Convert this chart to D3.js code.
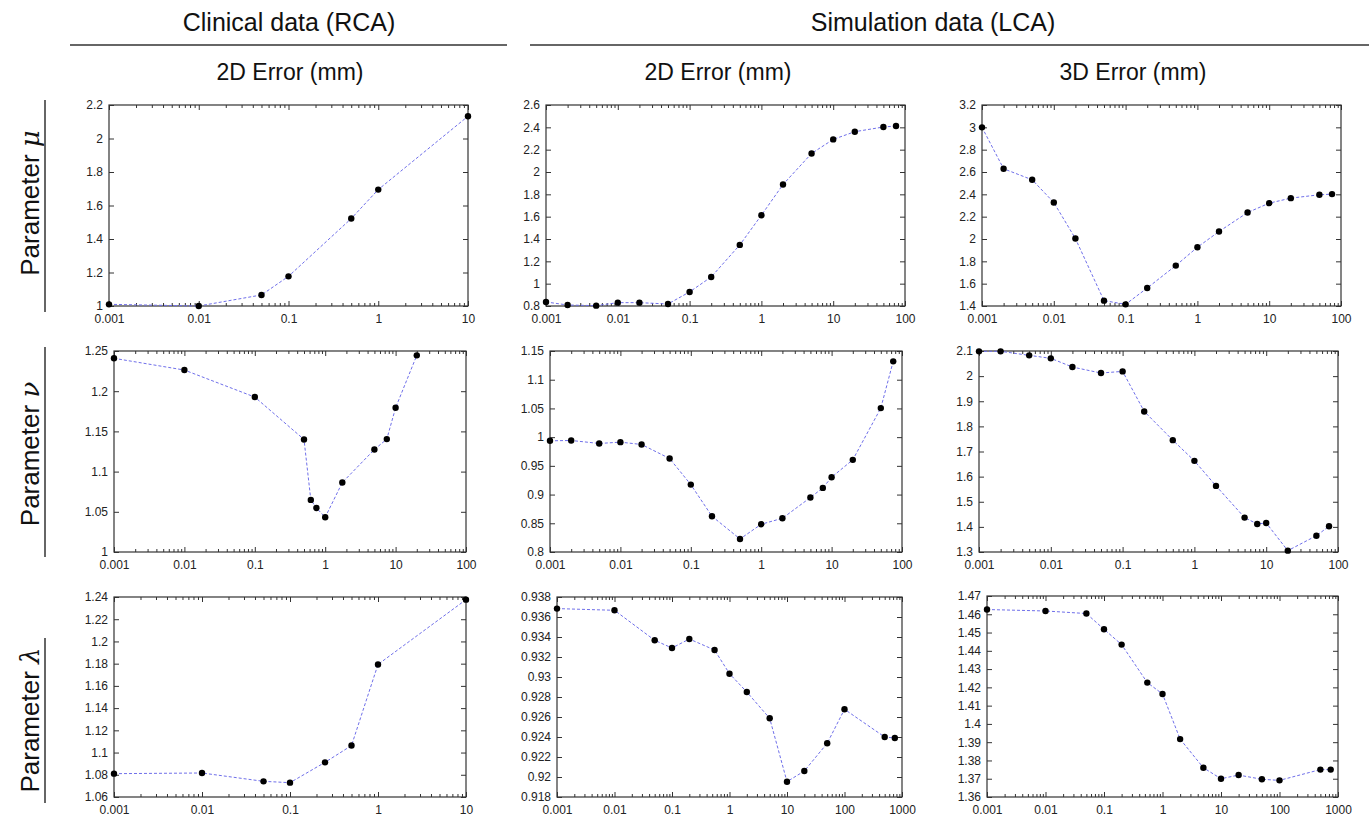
<!DOCTYPE html>
<html><head><meta charset="utf-8">
<script src="https://cdn.jsdelivr.net/npm/d3@7"></script>
<style>
body{margin:0;background:#fff;}
svg{display:block;font-family:"Liberation Sans",Arial,sans-serif;}
</style></head>
<body><svg id="c" width="1369" height="817"></svg>
<script>
// ---------- data ----------
const colHeaders = ["Clinical data (RCA)", "Simulation data (LCA)"];
const subHeaders = ["2D Error (mm)", "2D Error (mm)", "3D Error (mm)"];
const rowLabels = ["\u03BC", "\u03BD", "\u03BB"];

const xMuRCA = [0.001, 0.01, 0.05, 0.1, 0.5, 1, 10];
const yMuRCA2D = [1.01, 1.0, 1.066, 1.177, 1.522, 1.695, 2.133];

const xMuLCA = [0.001, 0.002, 0.005, 0.01, 0.02, 0.05, 0.1, 0.2, 0.5, 1, 2, 5, 10, 20, 50, 75];
const yMuLCA2D = [0.836, 0.809, 0.803, 0.83, 0.83, 0.818, 0.926, 1.06, 1.347, 1.613, 1.888, 2.166, 2.292, 2.361, 2.403, 2.412];
const yMuLCA3D = [3.0, 2.629, 2.53, 2.327, 2.004, 1.448, 1.415, 1.561, 1.762, 1.926, 2.067, 2.237, 2.321, 2.366, 2.396, 2.402];

const xNuRCA = [0.001, 0.01, 0.1, 0.5, 0.625, 0.75, 1, 1.75, 5, 7.5, 10, 20];
const yNuRCA2D = [1.2409, 1.2263, 1.1927, 1.14, 1.0648, 1.0548, 1.0432, 1.0864, 1.1275, 1.1404, 1.1794, 1.2446];

const xNuLCA = [0.001, 0.002, 0.005, 0.01, 0.02, 0.05, 0.1, 0.2, 0.5, 1, 2, 5, 7.5, 10, 20, 50, 75];
const yNuLCA2D = [0.9936, 0.9942, 0.989, 0.9913, 0.9872, 0.9628, 0.9174, 0.8622, 0.8227, 0.8483, 0.8587, 0.8948, 0.9116, 0.9302, 0.9605, 1.0506, 1.132];
const yNuLCA3D = [2.0987, 2.0987, 2.0827, 2.0708, 2.0362, 2.0123, 2.0189, 1.8595, 1.7452, 1.6628, 1.5631, 1.4369, 1.4116, 1.4156, 1.3053, 1.3649, 1.4023];

const xLaRCA = [0.001, 0.01, 0.05, 0.1, 0.25, 0.5, 1, 10];
const yLaRCA2D = [1.081, 1.0816, 1.0741, 1.0729, 1.0912, 1.1063, 1.1793, 1.2376];

const xLaLCA = [0.001, 0.01, 0.05, 0.1, 0.2, 0.55, 1, 2, 5, 10, 20, 50, 100, 500, 750];
const yLaLCA2D = [0.93684, 0.93667, 0.93367, 0.9329, 0.9338, 0.9327, 0.93033, 0.9285, 0.92587, 0.91953, 0.9206, 0.92337, 0.92677, 0.924, 0.9239];
const yLaLCA3D = [1.4626, 1.4618, 1.4604, 1.4518, 1.4434, 1.4226, 1.4164, 1.3917, 1.376, 1.37, 1.372, 1.3697, 1.3691, 1.375, 1.375];

// x tick labels (decades) and y tick label lists
const xTickLabels = ["0.001", "0.01", "0.1", "1", "10", "100", "1000"];
const yTicks1 = ["1", "1.2", "1.4", "1.6", "1.8", "2", "2.2"];
const yTicks2 = ["0.8", "1", "1.2", "1.4", "1.6", "1.8", "2", "2.2", "2.4", "2.6"];
const yTicks3 = ["1.4", "1.6", "1.8", "2", "2.2", "2.4", "2.6", "2.8", "3", "3.2"];
const yTicks4 = ["1", "1.05", "1.1", "1.15", "1.2", "1.25"];
const yTicks5 = ["0.8", "0.85", "0.9", "0.95", "1", "1.05", "1.1", "1.15"];
const yTicks6 = ["1.3", "1.4", "1.5", "1.6", "1.7", "1.8", "1.9", "2", "2.1"];
const yTicks7 = ["1.06", "1.08", "1.1", "1.12", "1.14", "1.16", "1.18", "1.2", "1.22", "1.24"];
const yTicks8 = ["0.918", "0.92", "0.922", "0.924", "0.926", "0.928", "0.93", "0.932", "0.934", "0.936", "0.938"];
const yTicks9 = ["1.36", "1.37", "1.38", "1.39", "1.4", "1.41", "1.42", "1.43", "1.44", "1.45", "1.46", "1.47"];

// ---------- layout ----------
const panels = [
  {r:[109,105,468,306], xd:[0.001,10],  xs:xMuRCA, ys:yMuRCA2D, yt:yTicks1},
  {r:[546,105,905,306], xd:[0.001,100], xs:xMuLCA, ys:yMuLCA2D, yt:yTicks2},
  {r:[982,105,1341,306],xd:[0.001,100], xs:xMuLCA, ys:yMuLCA3D, yt:yTicks3},
  {r:[114,351,466,552], xd:[0.001,100], xs:xNuRCA, ys:yNuRCA2D, yt:yTicks4},
  {r:[550,351,902,552], xd:[0.001,100], xs:xNuLCA, ys:yNuLCA2D, yt:yTicks5},
  {r:[979,351,1338,552],xd:[0.001,100], xs:xNuLCA, ys:yNuLCA3D, yt:yTicks6},
  {r:[114,597,466,797], xd:[0.001,10],  xs:xLaRCA, ys:yLaRCA2D, yt:yTicks7},
  {r:[557,597,902,797], xd:[0.001,1000],xs:xLaLCA, ys:yLaLCA2D, yt:yTicks8},
  {r:[987,596,1338,797],xd:[0.001,1000],xs:xLaLCA, ys:yLaLCA3D, yt:yTicks9}
];

const svg = d3.select("#c");
const axisCol = "#333";
const lineCol = "#6f6fea";
const xTickNums = xTickLabels.map(Number);

panels.forEach(p => {
  const [x0,y0,x1,y1] = p.r;
  const g = svg.append("g");
  const yVals = p.yt.map(Number);
  const x = d3.scaleLog().domain(p.xd).range([x0,x1]);
  const y = d3.scaleLinear().domain([yVals[0], yVals[yVals.length-1]]).range([y1,y0]);
  const majors = xTickNums.filter(v => v >= p.xd[0]*0.999 && v <= p.xd[1]*1.001);
  const minors = [];
  majors.forEach(m => { for (let k=2;k<=9;k++){ const v=m*k; if (v < p.xd[1]*0.999) minors.push(v);} });

  const ab = g.append("g").attr("transform",`translate(0,${y1})`)
    .call(d3.axisBottom(x).tickValues(majors).tickSize(-5).tickPadding(8).tickFormat(v => xTickLabels[xTickNums.indexOf(v)]));
  const abm = g.append("g").attr("transform",`translate(0,${y1})`)
    .call(d3.axisBottom(x).tickValues(minors).tickSize(-3).tickFormat(""));
  const at = g.append("g").attr("transform",`translate(0,${y0})`)
    .call(d3.axisTop(x).tickValues(majors).tickSize(-5).tickFormat(""));
  const atm = g.append("g").attr("transform",`translate(0,${y0})`)
    .call(d3.axisTop(x).tickValues(minors).tickSize(-3).tickFormat(""));
  const al = g.append("g").attr("transform",`translate(${x0},0)`)
    .call(d3.axisLeft(y).tickValues(yVals).tickSize(-5).tickPadding(6).tickFormat((v,i) => p.yt[i]));
  const ar = g.append("g").attr("transform",`translate(${x1},0)`)
    .call(d3.axisRight(y).tickValues(yVals).tickSize(-5).tickFormat(""));
  [ab,abm,at,atm,al,ar].forEach(a => {
    a.select(".domain").remove();
    a.selectAll("line").attr("stroke",axisCol);
    a.selectAll("text").attr("fill","#222").style("font-size","12px").style("font-family","'Liberation Sans',Arial,sans-serif");
  });
  g.append("rect").attr("x",x0).attr("y",y0).attr("width",x1-x0).attr("height",y1-y0)
    .attr("fill","none").attr("stroke",axisCol).attr("stroke-width",1.2);

  const pts = p.xs.map((v,i) => [v, p.ys[i]]);
  g.append("path").datum(pts)
    .attr("d", d3.line().x(d => x(d[0])).y(d => y(d[1])))
    .attr("fill","none").attr("stroke",lineCol).attr("stroke-width",1).attr("stroke-dasharray","3,2");
  g.selectAll("circle.pt").data(pts).join("circle").attr("class","pt")
    .attr("cx", d => x(d[0])).attr("cy", d => y(d[1])).attr("r", 3.2).attr("fill","#000");
});

// ---------- headers ----------
const hdrFont = "'Liberation Sans',Arial,sans-serif";
svg.append("text").attr("x",289).attr("y",31).attr("text-anchor","middle")
  .style("font-size","25px").style("font-family",hdrFont).attr("fill","#111").text(colHeaders[0]);
svg.append("text").attr("x",933).attr("y",31).attr("text-anchor","middle")
  .style("font-size","25px").style("font-family",hdrFont).attr("fill","#111").text(colHeaders[1]);
svg.append("line").attr("x1",70).attr("x2",507).attr("y1",45).attr("y2",45).attr("stroke","#333").attr("stroke-width",1.5);
svg.append("line").attr("x1",530).attr("x2",1369).attr("y1",45).attr("y2",45).attr("stroke","#333").attr("stroke-width",1.5);
[290, 718, 1133].forEach((cx,i) => {
  svg.append("text").attr("x",cx).attr("y",80).attr("text-anchor","middle")
    .style("font-size","23px").style("font-family",hdrFont).attr("fill","#111").text(subHeaders[i]);
});

// ---------- row labels ----------
const rowCY = [203, 454, 720];
const rowLine = [[100,312],[347,557],[638,803]];
rowLabels.forEach((sym,i) => {
  const t = svg.append("text").attr("transform",`translate(39,${rowCY[i]}) rotate(-90)`)
    .attr("text-anchor","middle").style("font-size","26px").style("font-family",hdrFont).attr("fill","#111");
  t.append("tspan").text("Parameter ");
  t.append("tspan").style("font-family","'DejaVu Serif','Liberation Serif',serif").style("font-style","italic").text(sym);
  svg.append("line").attr("x1",45).attr("x2",45).attr("y1",rowLine[i][0]).attr("y2",rowLine[i][1])
    .attr("stroke","#333").attr("stroke-width",1.5);
});
</script>
</body></html>
